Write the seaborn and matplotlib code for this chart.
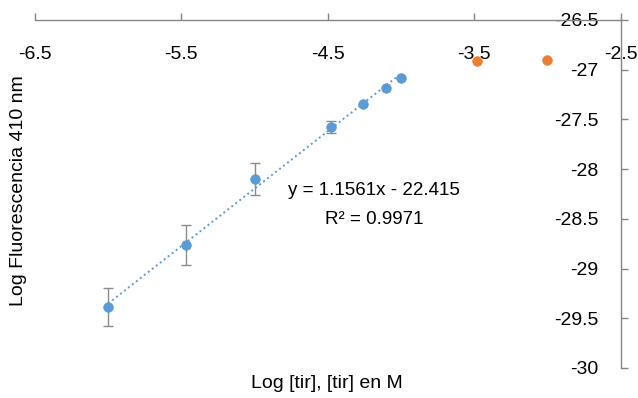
import numpy as np
import pandas as pd
import matplotlib
matplotlib.use("Agg")
import matplotlib.pyplot as plt
import seaborn as sns

# Calibration series (log concentration vs. log fluorescence at 410 nm)
log_conc = [-6.0, -5.47, -5.0, -4.48, -4.26, -4.10, -4.0]
log_fluor = [-29.39, -28.76, -28.10, -27.573, -27.345, -27.18, -27.08]
fluor_err = [0.19, 0.20, 0.16, 0.06, 0.0, 0.0, 0.0]

# Saturated points excluded from the fit
sat_conc = [-3.48, -3.005]
sat_fluor = [-26.91, -26.90]

# Linear trendline reported on the chart
slope = 1.1561
intercept = -22.415
r2 = 0.9971

x_ticks = [-6.5, -5.5, -4.5, -3.5, -2.5]
y_ticks = [-30, -29.5, -29, -28.5, -28, -27.5, -27, -26.5]

sns.set_theme(style="white")
plt.rcParams["font.family"] = ["Liberation Sans", "DejaVu Sans"]

blue = "#5B9BD5"
orange = "#ED7D31"
axis_gray = "#868686"

fig = plt.figure(figsize=(6.38, 3.98), dpi=100)
ax = fig.add_axes([35 / 638, 1 - 368 / 398, (620.7 - 35) / 638, (368 - 20) / 398])

cal = pd.DataFrame({"x": log_conc, "y": log_fluor, "err": fluor_err})
sat = pd.DataFrame({"x": sat_conc, "y": sat_fluor})

# Trendline over the calibration range
fit_x = [min(log_conc), max(log_conc)]
fit = pd.DataFrame({"x": fit_x, "y": [slope * v + intercept for v in fit_x]})
sns.lineplot(data=fit, x="x", y="y", ax=ax, color=blue, linestyle=(0, (1, 1.6)),
             linewidth=1.4, zorder=2)

# Error bars
eb = cal[cal["err"] > 0]
ax.errorbar(eb["x"], eb["y"], yerr=eb["err"], fmt="none", ecolor="#8C8C8C",
            elinewidth=1.0, capsize=3.5, capthick=1.0, zorder=3)

sns.scatterplot(data=cal, x="x", y="y", ax=ax, color=blue, s=48,
                edgecolor=blue, linewidth=0.5, zorder=4)
sns.scatterplot(data=sat, x="x", y="y", ax=ax, color=orange, s=48,
                edgecolor=orange, linewidth=0.5, zorder=4)

ax.set_xlim(-6.5, -2.5)
ax.set_ylim(-30, -26.5)
ax.set_xticks(x_ticks)
ax.set_yticks(y_ticks)
ax.set_xticklabels([f"{v:g}" for v in x_ticks])
ax.set_yticklabels([f"{v:g}" for v in y_ticks])

# Axes cross at the top-right corner
for side in ("left", "bottom"):
    ax.spines[side].set_visible(False)
for side in ("top", "right"):
    ax.spines[side].set_visible(True)
    ax.spines[side].set_color(axis_gray)
    ax.spines[side].set_linewidth(1.0)

label_size = 14
ax.tick_params(axis="x", which="major", bottom=False, top=True, labelbottom=False,
               labeltop=True, direction="out", length=5, width=1.0,
               color=axis_gray, pad=-36, labelsize=label_size, labelcolor="#000000")
ax.tick_params(axis="y", which="major", left=False, right=True, labelleft=False,
               labelright=True, direction="out", length=5, width=1.0,
               color=axis_gray, pad=-21, labelsize=label_size, labelcolor="#000000")
for t in ax.yaxis.get_major_ticks():
    t.label2.set_horizontalalignment("right")

ax.set_xlabel("Log [tir], [tir] en M", fontsize=label_size, color="#000000")
ax.set_ylabel("Log Fluorescencia 410 nm", fontsize=label_size, color="#000000")
ax.xaxis.set_label_position("bottom")
ax.yaxis.set_label_position("left")
ax.xaxis.set_label_coords(0.4986, -0.02)
ax.yaxis.set_label_coords(-0.0137, 0.511)

ax.text(-4.184, -28.21, f"y = {slope}x - {abs(intercept)}", ha="center",
        va="center", fontsize=13.5, color="#000000")
ax.text(-4.184, -28.51, f"R² = {r2}", ha="center", va="center",
        fontsize=13.5, color="#000000")

fig.savefig("out.png", dpi=100)
